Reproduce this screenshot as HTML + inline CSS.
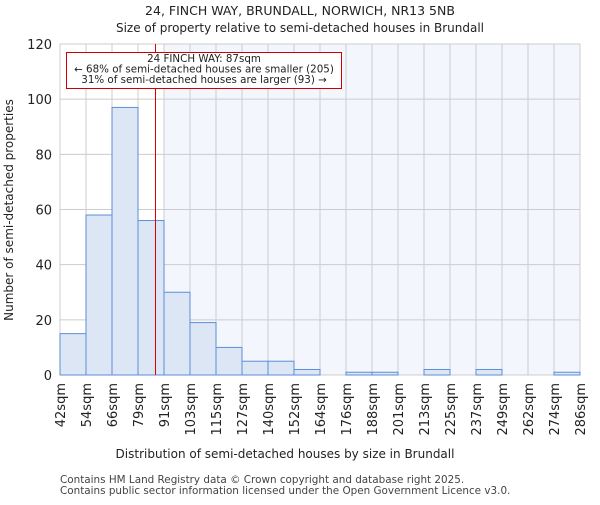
<!DOCTYPE html>
<html><head><meta charset="utf-8"><style>
body{margin:0;background:#fff;}
svg text{font-family:"DejaVu Sans","Liberation Sans",sans-serif;fill:#222;}
</style></head><body>
<svg id="chart" width="600" height="500" xmlns="http://www.w3.org/2000/svg">
<text x="300" y="15" font-size="12.5" text-anchor="middle">24, FINCH WAY, BRUNDALL, NORWICH, NR13 5NB</text>
<text x="300" y="32" font-size="12" text-anchor="middle">Size of property relative to semi-detached houses in Brundall</text>
<g id="plot"></g>
<text x="285" y="458" font-size="12" text-anchor="middle">Distribution of semi-detached houses by size in Brundall</text>
<text transform="translate(13,210) rotate(-90)" font-size="12" text-anchor="middle">Number of semi-detached properties</text>
<text x="60" y="483" font-size="10.4" style="fill:#444">Contains HM Land Registry data © Crown copyright and database right 2025.</text>
<text x="60" y="494" font-size="10.4" style="fill:#444">Contains public sector information licensed under the Open Government Licence v3.0.</text>
</svg>
<script>
const categories=["42sqm","54sqm","66sqm","79sqm","91sqm","103sqm","115sqm","127sqm","140sqm","152sqm","164sqm","176sqm","188sqm","201sqm","213sqm","225sqm","237sqm","249sqm","262sqm","274sqm","286sqm"];
const counts=[15,58,97,56,30,19,10,5,5,2,0,1,1,0,2,0,2,0,0,1];
const yTicks=[0,20,40,60,80,100,120];
const propertySize=87;
const binEdges=[42,54,66,79,91,103,115,127,140,152,164,176,188,201,213,225,237,249,262,274,286];
const NS="http://www.w3.org/2000/svg";
const L=60,R=580,T=44,B=375,yMax=120;
const g=document.getElementById('plot');
const n=counts.length,bw=(R-L)/n;
function xIdx(i){return L+i*bw;}
function yS(v){return B-(v/yMax)*(B-T);}
function xVal(v){for(let i=0;i<binEdges.length-1;i++){if(v<=binEdges[i+1])return xIdx(i)+(v-binEdges[i])/(binEdges[i+1]-binEdges[i])*bw;}return R;}
function mk(t,a){const e=document.createElementNS(NS,t);for(const k in a)e.setAttribute(k,a[k]);g.appendChild(e);return e;}
const rx=Math.round(xVal(propertySize))+0.5;
let shadeIdx=binEdges.findIndex(b=>b>=propertySize);
let sh=mk('rect',{x:xIdx(shadeIdx),y:T,width:R-xIdx(shadeIdx),height:B-T,fill:'#f3f6fd'});


for(let i=0;i<=n;i++){const l=mk('line',{x1:xIdx(i),x2:xIdx(i),y1:T,y2:B,stroke:'#cccccc','stroke-width':1});

}
yTicks.forEach(v=>{const l=mk('line',{x1:L,x2:R,y1:yS(v),y2:yS(v),stroke:'#cccccc','stroke-width':1});


const t=mk('text',{x:L-8,y:yS(v)+5,'font-size':13,'text-anchor':'end'});t.textContent=v;

});
counts.forEach((c,i)=>{if(c<=0)return;const r=mk('rect',{x:xIdx(i),y:yS(c),width:bw,height:B-yS(c),fill:'#dce6f4',stroke:'#5b8fd6','stroke-width':1});

});
categories.forEach((c,i)=>{const x=xIdx(i);const t=mk('text',{transform:`translate(${x+5},${B+8}) rotate(-90)`,'font-size':13,'text-anchor':'end'});t.textContent=c;

});
const rl=mk('line',{x1:rx,x2:rx,y1:T,y2:B,stroke:'#dd0000','stroke-width':1});


const box=mk('rect',{x:66.5,y:52.5,width:275,height:36,fill:'#fff',stroke:'#cc0000','stroke-width':1});


["24 FINCH WAY: 87sqm","← 68% of semi-detached houses are smaller (205)","31% of semi-detached houses are larger (93) →"].forEach((s,i)=>{const t=mk('text',{x:204,y:62+i*10.5,'font-size':10.3,'text-anchor':'middle'});t.textContent=s;

});
</script>
</body></html>
